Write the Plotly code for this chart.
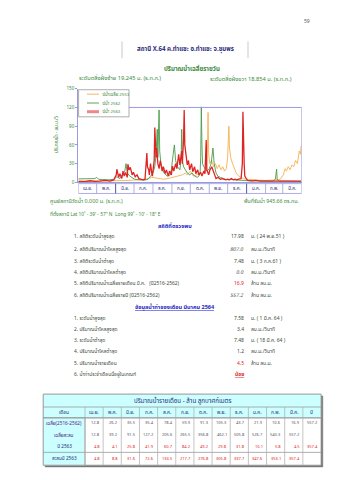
import plotly.graph_objects as go

W, H = 339, 480
FONT = "Noto Sans Thai, Tahoma, Loma, Garuda, Norasi, DejaVu Sans, sans-serif"

# ---------------- data ----------------
months = ["เม.ย.", "พ.ค.", "มิ.ย.", "ก.ค.", "ส.ค.", "ก.ย.", "ต.ค.", "พ.ย.", "ธ.ค.", "ม.ค.", "ก.พ.", "มี.ค."]
month_days = [30, 31, 30, 31, 31, 30, 31, 30, 31, 31, 28, 31]
y_ticks = [0, 30, 60, 90, 120, 150]

legend_names = ["ปีน้ำเฉลี่ย 2553", "ปีน้ำ 2562", "ปีน้ำ 2563"]

# daily discharge (m3/s); day 0 = 1 April
orange_day = [0, 30, 60, 80, 95, 110, 120, 130, 140, 150, 160, 170, 175, 178, 183, 188, 193, 198, 202, 205,
              209, 211, 212, 213, 215, 218, 221, 224, 227, 230, 233, 236, 239, 242, 244, 246, 247, 249, 252, 255,
              258, 262, 266, 270, 276, 285, 295, 305, 315, 325, 330, 335, 338, 340, 343, 346, 349, 352, 355, 358,
              361, 363, 364]
orange_q = [2, 2, 2.5, 3, 4, 5, 8, 6, 5, 7, 10, 12, 15, 12, 18, 10, 12, 15, 12, 15,
            25, 50, 112, 45, 30, 35, 25, 30, 22, 28, 20, 25, 18, 22, 40, 90, 55, 40, 30, 22,
            15, 10, 8, 6, 5, 4, 3.5, 3, 3, 4, 5, 12, 22, 18, 25, 20, 28, 25, 35, 30,
            50, 45, 58]

green_day = [0, 10, 20, 27, 30, 33, 40, 50, 58, 63, 68, 72, 76, 78, 80, 84, 88, 92, 100, 108,
             114, 118, 122, 125, 127, 129, 130, 132, 133, 135, 137, 140, 143, 146, 150, 152, 155, 157, 159, 162,
             166, 168, 169, 170, 172, 175, 178, 182, 186, 190, 194, 197, 199, 200, 201, 202, 203, 205, 210, 214,
             217, 220, 222, 225, 228, 232, 236, 240, 245, 250, 255, 260, 270, 280, 290, 300, 310, 318, 322, 324,
             325, 328, 340, 350, 364]
green_q = [5.5, 5.5, 5, 6, 8, 5, 4.5, 4, 5, 9, 6, 12, 18, 30, 15, 10, 7, 5, 4, 3.5,
           5, 10, 15, 25, 45, 85, 40, 116, 50, 30, 22, 15, 12, 10, 12, 20, 45, 60, 35, 25,
           20, 40, 85, 35, 25, 20, 15, 12, 15, 10, 8, 10, 15, 40, 121, 60, 30, 25, 18, 22,
           30, 55, 30, 15, 10, 8, 6, 5, 4, 5, 4, 3.5, 3, 2.5, 2.5, 2, 2, 2, 5, 21,
           4, 2, 2, 1.5, 1.5]

red_day = [0, 11, 19, 27, 35, 44, 52, 58, 62, 63, 66, 68, 71, 73, 75, 77, 80, 81, 83, 85,
           88, 90, 93, 96, 99, 102, 106, 109, 112, 113, 115, 116, 118, 120, 121, 124, 125, 127, 128, 130,
           132, 134, 137, 139, 142, 144, 147, 149, 152, 154, 156, 159, 161, 164, 166, 169, 170, 172, 173, 174,
           176, 178, 180, 182, 185, 187, 190, 192, 195, 197, 200, 202, 205, 207, 209, 210, 213, 215, 218, 222,
           225, 228, 232, 235, 238, 241, 244, 247, 250, 253, 256, 259, 262, 266, 268, 269, 271, 272, 275, 277,
           284, 290, 297, 305, 313, 321, 329, 338, 346, 354, 364]
red_q = [1.5, 1, 2.5, 1.5, 2, 3, 2, 4, 12, 21, 8, 14, 6, 18, 10, 16, 8, 29, 20, 24,
         12, 16, 9, 12, 6, 5, 4, 5, 47, 25, 20, 12, 30, 15, 10, 35, 88, 40, 55, 30,
         22, 35, 18, 25, 14, 20, 10, 18, 12, 26, 18, 30, 22, 45, 28, 50, 30, 70, 116, 60,
         45, 28, 35, 20, 30, 17, 25, 14, 20, 12, 16, 10, 18, 14, 68, 20, 12, 20, 25, 12,
         6, 8, 5, 6, 5, 4, 5, 4, 6, 4, 5, 4, 5, 6, 30, 113, 30, 10, 5, 3,
         2.5, 3, 2, 2, 1.5, 2, 1.5, 1.5, 2, 1.5, 2]

# statistics text
stat_labels = ["1. สถิติระดับน้ำสูงสุด", "2. สถิติปริมาณน้ำไหลสูงสุด", "3. สถิติระดับน้ำต่ำสุด",
               "4. สถิติปริมาณน้ำไหลต่ำสุด", "5. สถิติปริมาณน้ำเฉลี่ยรายเดือน มี.ค.   (ปี2516-2562)",
               "6. สถิติปริมาณน้ำเฉลี่ยรายปี (ปี2516-2562)"]
stat_values = ["17.98", "807.0", "7.48", "0.0", "16.9", "557.2"]
stat_units = ["ม. ( 24 พ.ย.51 )", "ลบ.ม./วินาที", "ม. ( 3 ก.ค.61 )", "ลบ.ม./วินาที", "ล้าน ลบ.ม.", "ล้าน ลบ.ม."]

month_labels = ["1. ระดับน้ำสูงสุด", "2. ปริมาณน้ำไหลสูงสุด", "3. ระดับน้ำต่ำสุด",
                "4. ปริมาณน้ำไหลต่ำสุด", "5. ปริมาณน้ำรายเดือน", "6. น้ำท่าประจำเดือนนี้อยู่ในเกณฑ์"]
month_values = ["7.58", "3.4", "7.48", "1.2", "4.5", "น้อย"]
month_units = ["ม. ( 1 มี.ค. 64 )", "ลบ.ม./วินาที", "ม. ( 18 มี.ค. 64 )", "ลบ.ม./วินาที", "ล้าน ลบ.ม.", ""]

# monthly volume table (million m3)
table_cols = ["เดือน"] + months + ["ปี"]
row_names = ["เฉลี่ย(2516-2562)", "เฉลี่ยสะสม", "ปี 2563", "สะสมปี 2563"]
avg_month = [12.8, 26.2, 35.5, 35.4, 78.4, 59.9, 91.3, 105.3, 43.7, 21.9, 10.6, 16.9]
avg_year = 557.2
avg_cum = [12.8, 39.2, 91.5, 127.2, 205.6, 265.5, 356.8, 462.1, 505.8, 526.7, 540.3, 557.2]
y2563 = [4.8, 4.1, 25.8, 41.9, 60.7, 84.2, 49.2, 29.8, 31.8, 10.1, 5.8, 4.5]
y2563_year = 357.4
cum2563 = [4.8, 8.8, 31.6, 72.6, 133.5, 217.7, 276.8, 305.8, 337.7, 347.6, 353.1, 357.4]

# ---------------- helpers ----------------
def px(x):
    return x / W

def py(y):
    return 1 - y / H

ann = []
shapes = []

def txt(x, y, s, size=6, color="#404a40", anchor="left", yanchor="middle", angle=0):
    ann.append(dict(x=px(x), y=py(y), xref="paper", yref="paper", text=s, showarrow=False,
                    xanchor=anchor, yanchor=yanchor, textangle=angle,
                    font=dict(family=FONT, size=size, color=color)))

def rect(x0, y0, x1, y1, line="#999999", fill="rgba(0,0,0,0)", width=0.8, layer="above"):
    shapes.append(dict(type="rect", xref="paper", yref="paper", x0=px(x0), x1=px(x1), y0=py(y1), y1=py(y0),
                       line=dict(color=line, width=width), fillcolor=fill, layer=layer))

def hline(x0, x1, y, color="#999999", width=0.8):
    shapes.append(dict(type="line", xref="paper", yref="paper", x0=px(x0), x1=px(x1), y0=py(y), y1=py(y),
                       line=dict(color=color, width=width)))

def vline(x, y0, y1, color="#999999", width=0.8):
    shapes.append(dict(type="line", xref="paper", yref="paper", x0=px(x), x1=px(x), y0=py(y0), y1=py(y1),
                       line=dict(color=color, width=width)))

GREEN = "#3b8a3b"
NAVY = "#2b2b7a"
BLUE = "#2323c8"
RED = "#e02424"
LAV = "#9a9ae0"
TXT = "#3c4a3c"

# ---------------- chart ----------------
fig = go.Figure()
fig.add_trace(go.Scatter(x=orange_day, y=orange_q, mode="lines", line=dict(color="#f5b050", width=0.9),
                         name=legend_names[0], showlegend=False, hoverinfo="skip"))
fig.add_trace(go.Scatter(x=green_day, y=green_q, mode="lines", line=dict(color="#4a9a4a", width=0.9),
                         name=legend_names[1], showlegend=False, hoverinfo="skip"))
fig.add_trace(go.Scatter(x=red_day, y=red_q, mode="lines", line=dict(color=RED, width=1.3),
                         name=legend_names[2], showlegend=False, hoverinfo="skip"))

X0, X1 = 78.3, 301.7
Y0, Y1 = 182.0, 87.0

# reference line at 120 and right border
shapes.append(dict(type="line", xref="x", yref="y", x0=0, x1=365, y0=120, y1=120,
                   line=dict(color=LAV, width=1)))
shapes.append(dict(type="line", xref="x", yref="y", x0=365, x1=365, y0=0, y1=120,
                   line=dict(color=LAV, width=1)))

# month boxes
bnd = [0]
for d in month_days:
    bnd.append(bnd[-1] + d)
box_top, box_bot = 183.3, 193.3
shapes.append(dict(type="rect", xref="x", yref="paper", x0=0, x1=365, y0=py(box_bot), y1=py(box_top),
                   line=dict(color=LAV, width=0.8), fillcolor="white"))
for i, b in enumerate(bnd[1:-1]):
    dark = b in (61, 275)
    shapes.append(dict(type="line", xref="x", yref="paper", x0=b, x1=b, y0=py(box_bot), y1=py(box_top),
                       line=dict(color="#5555aa" if dark else LAV, width=1 if dark else 0.8)))
for i, m in enumerate(months):
    ann.append(dict(x=(bnd[i] + bnd[i + 1]) / 2, y=py((box_top + box_bot) / 2), xref="x", yref="paper",
                    text=m, showarrow=False, xanchor="center", yanchor="middle",
                    font=dict(family=FONT, size=4.5, color=NAVY)))

# legend (drawn manually)
rect(78.6, 88, 129, 115.5, line="#8a8a8a", fill="white", width=0.7)
leg_y = [92.5, 101.5, 110.3]
leg_col = ["#f5b050", "#4a9a4a", "rgba(224,36,36,0.55)"]
leg_w = [0.9, 0.9, 3]
for yy, c, w, nm in zip(leg_y, leg_col, leg_w, legend_names):
    hline(87, 99, yy, color=c, width=w)
    txt(100, yy, nm, size=4.3, color=GREEN)

# axis title
txt(56, 134, "ปริมาณน้ำ - ลบ.ม./วิ", size=4.6, color=GREEN, anchor="center", angle=-90)

# top texts
txt(307, 19, "59", size=5, color="#555555", anchor="center")
vline(122, 39, 56, color="#bbbbbb", width=0.8)
vline(248, 39, 56, color="#bbbbbb", width=0.8)
txt(185, 47, "<b>สถานี X.64 ค.ท่าแซะ อ.ท่าแซะ จ.ชุมพร</b>", size=6.1, color=NAVY, anchor="center")
txt(192, 67, "<b>ปริมาณน้ำเฉลี่ยรายวัน</b>", size=6.1, color=GREEN, anchor="center")
txt(77, 77, "ระดับตลิ่งฝั่งซ้าย 19.245 ม. (ร.ท.ก.)", size=5.7, color=GREEN)
txt(294, 78, "ระดับตลิ่งฝั่งขวา 18.854 ม. (ร.ท.ก.)", size=5.7, color=GREEN, anchor="right")

# texts below chart
txt(48, 201, "ศูนย์สถานีวัดน้ำ 0.000 ม. (ร.ท.ก.)", size=5.4, color=GREEN)
txt(301, 201, "พื้นที่รับน้ำ 945.66 ตร.กม.", size=5.2, color=GREEN, anchor="right")
txt(48, 215, "ที่ตั้งสถานี Lat 10˚ - 39' - 57\" N  Long 99˚ - 10' - 18\" E", size=4.8, color=GREEN)

txt(175, 226, "<b>สถิติที่ตรวจพบ</b>", size=5.5, color=BLUE, anchor="center")
NUM_R, UNIT_L = 246, 248.5
stat_y = [237.3, 250.5, 262, 273.5, 285, 296.7]
for yy, lab, val, unit in zip(stat_y, stat_labels, stat_values, stat_units):
    txt(72, yy, lab, size=4.9, color=TXT)
    vcol = RED if val == "16.9" else TXT
    txt(NUM_R, yy, "<i>" + val + "</i>" if val in ("807.0", "0.0", "557.2") else val, size=5, color=vcol,
        anchor="right")
    txt(UNIT_L, yy, unit, size=5, color=TXT)

txt(175, 308, "<b><u>ข้อมูลน้ำท่าของเดือน มีนาคม 2564</u></b>", size=5.5, color=BLUE, anchor="center")
mon_y = [320, 331.7, 342.8, 354, 365.7, 377.3]
for yy, lab, val, unit in zip(mon_y, month_labels, month_values, month_units):
    txt(72, yy, lab, size=4.9, color=TXT)
    if val == "น้อย":
        txt(NUM_R, yy, "<b><u>" + val + "</u></b>", size=5, color=RED, anchor="right")
    else:
        txt(NUM_R, yy, val, size=5, color=RED if val == "4.5" else TXT, anchor="right")
    if unit:
        txt(UNIT_L, yy, unit, size=5, color=TXT)

# ---------------- table ----------------
TL, TR = 43.3, 321.0
c0 = 85.0
cw = (TR - c0) / 13
col_x = [TL, c0] + [c0 + cw * (k + 1) for k in range(13)]
r_edges = [397, 410, 421, 432, 444, 456, 469]
CYAN = "#ccffff"
# shadow
rect(TL + 1.8, r_edges[0] + 1.8, TR + 1.8, r_edges[-1] + 1.8, line="#777777", fill="#777777", width=0.5)
rect(TL, r_edges[0], TR, r_edges[-1], line="#999999", fill="white", width=0.8)
rect(TL, r_edges[0], TR, r_edges[2], line="#999999", fill=CYAN, width=0.8)
rect(TL, r_edges[2], c0, r_edges[-1], line="#999999", fill=CYAN, width=0.8)
for yy in (r_edges[1], r_edges[2], r_edges[5]):
    hline(TL, TR, yy, color="#999999", width=0.8)
for xx in col_x[1:-1]:
    vline(xx, r_edges[1], r_edges[-1], color="#aaaaaa", width=0.7)

txt((TL + TR) / 2, (r_edges[0] + r_edges[1]) / 2, "ปริมาณน้ำรายเดือน - ล้าน ลูกบาศก์เมตร", size=6.2,
    color=NAVY, anchor="center")
hy = (r_edges[1] + r_edges[2]) / 2
for k, c in enumerate(table_cols):
    txt((col_x[k] + col_x[k + 1]) / 2, hy, c, size=4.8, color=NAVY, anchor="center")

row_y = [426.5, 438.5, 450.5, 462.5]
rows = [avg_month + [avg_year], avg_cum + [None], y2563 + [y2563_year], cum2563 + [None]]
row_colors = ["#555566", "#555566", RED, RED]
for r, (nm, vals, col) in enumerate(zip(row_names, rows, row_colors)):
    txt((TL + c0) / 2, row_y[r], nm, size=4.7, color="#551a8b" if r < 2 else NAVY, anchor="center")
    for k, v in enumerate(vals):
        if v is None:
            continue
        txt(col_x[k + 2] - 1.2, row_y[r], f"{v:.1f}", size=4, color=col, anchor="right")

# ---------------- layout ----------------
fig.update_layout(
    width=W, height=H, margin=dict(l=0, r=0, t=0, b=0),
    paper_bgcolor="white", plot_bgcolor="white",
    showlegend=False,
    xaxis=dict(domain=[px(X0), px(X1)], range=[0, 365], showgrid=False, zeroline=False,
               showticklabels=False, ticks="", showline=True, linecolor=LAV, linewidth=1, fixedrange=True),
    yaxis=dict(domain=[py(Y0), py(Y1)], range=[0, 150], tickvals=y_ticks, showgrid=False, zeroline=False,
               showline=True, linecolor=LAV, linewidth=1, ticks="outside", ticklen=2, tickcolor=LAV,
               tickfont=dict(family=FONT, size=4.6, color=GREEN), fixedrange=True),
    shapes=shapes, annotations=ann,
)

fig.write_html("out.html")
